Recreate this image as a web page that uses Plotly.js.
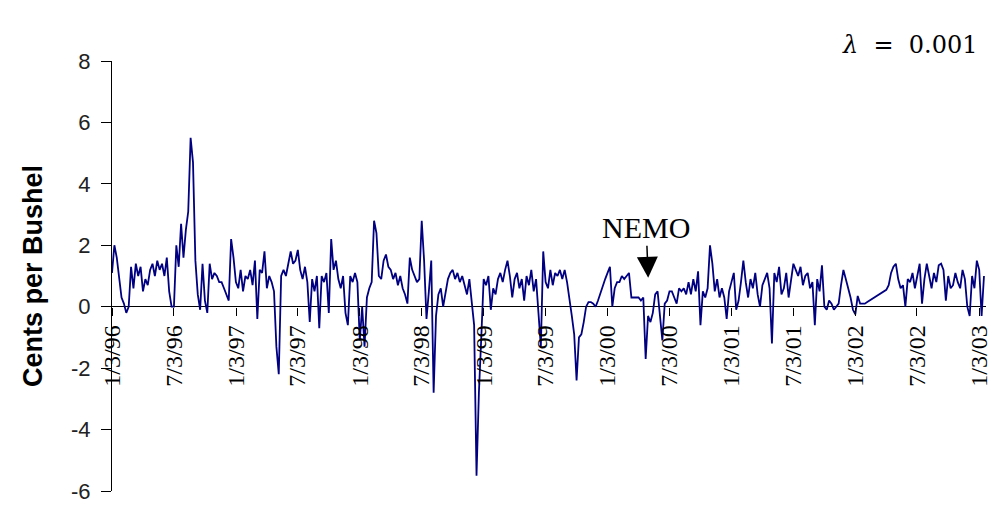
<!DOCTYPE html>
<html>
<head>
<meta charset="utf-8">
<script src="https://cdn.plot.ly/plotly-3.0.1.min.js"></script>
<style>html,body{margin:0;padding:0;background:#fff;}#chart{width:991px;height:506px;}</style>
</head>
<body>
<div id="chart"></div>
<script>
// Weekly readings (cents per bushel), one array per half-year starting at each tick date
const hy1 = [1.1, 2.0, 1.6, 0.9, 0.3, 0.1, -0.2, 0.0, 1.3, 0.6, 1.4, 1.0, 1.3, 0.5, 0.9, 0.7, 1.2, 1.4, 1.0, 1.5, 1.2, 1.4, 1.0, 1.6, 0.5, 0.0];
const hy2 = [0.0, 2.0, 1.3, 2.7, 1.6, 2.5, 3.1, 5.5, 4.7, 1.5, 0.4, -0.1, 1.4, 0.2, -0.2, 1.4, 0.9, 1.1, 1.0, 0.8, 0.8, 0.6, 0.4, 0.2, 2.2, 1.6];
const hy3 = [0.8, 0.6, 1.2, 0.5, 1.0, 0.9, 1.2, 0.7, 1.5, -0.4, 1.2, 1.1, 1.8, 0.6, 1.0, 0.8, 0.5, -1.3, -2.2, 1.0, 1.2, 1.0, 1.4, 1.8, 1.4, 1.5];
const hy4 = [1.85, 1.2, 0.9, 1.3, 0.8, -0.5, 0.9, 0.5, 1.0, -0.7, 1.0, 0.8, 1.1, -0.2, 2.2, 1.2, 1.5, 0.9, 0.6, 1.0, -0.2, -0.6, 1.0, 0.8, 1.1, 0.8];
const hy5 = [-1.1, 0.0, -1.3, 0.3, 0.6, 0.8, 2.8, 2.4, 1.0, 0.9, 1.5, 1.7, 1.3, 1.2, 0.9, 1.1, 0.7, 1.0, 0.6, 0.4, 0.1, 1.6, 1.2, 1.0, 0.8, 0.9];
const hy6 = [2.8, 1.5, -0.4, 0.5, 1.5, -2.8, -0.3, 0.4, 0.6, 0.0, 0.4, 0.9, 1.1, 1.2, 0.9, 1.1, 0.8, 1.0, 0.7, 0.4, 0.9, 0.1, -0.6, -5.5, -2.8, -1.0];
const hy7 = [0.9, 0.7, 1.0, -0.1, 0.6, 0.4, 0.9, 1.1, 0.8, 1.2, 1.5, 1.0, 0.3, 0.9, 1.1, 0.6, 0.9, 0.2, 1.0, 0.7, 1.2, 0.5, 0.9, -0.2, -1.3, 1.8];
const hy8 = [0.8, 0.6, 1.2, 0.7, 1.1, 1.0, 1.2, 0.9, 1.2, 0.8, 0.3, -0.3, -0.9, -2.4, -1.0, -0.9, -0.5, 0.0, 0.15, 0.15, 0.1, 0.0, 0.2, 0.45, 0.66, 0.9];
const hy9 = [1.1, 1.3, 0.0, 0.6, 0.8, 0.8, 1.0, 0.9, 1.0, 1.1, 0.3, 0.3, 0.3, 0.3, 0.2, 0.3, -1.7, -0.3, -0.5, -0.2, 0.4, 0.5, -0.3, -1.1, 0.1, 0.2];
const hy10 = [0.5, 0.5, 0.3, 0.1, 0.6, 0.5, 0.6, 0.4, 0.8, 0.4, 0.9, 0.5, 1.15, -0.6, 0.5, 0.3, 0.6, 2.0, 1.4, 0.5, 0.9, 0.3, 0.6, 0.3, -0.4, 0.5];
const hy11 = [0.8, 1.1, -0.1, 0.2, 0.8, 1.5, 0.8, 0.3, 0.9, 0.6, 1.1, 0.4, 0.0, 0.7, 0.9, 1.1, 0.6, -1.2, 1.1, 0.8, 1.3, 0.4, 0.6, 1.1, 0.3, 0.9];
const hy12 = [1.4, 1.2, 1.0, 1.3, 0.7, 1.0, 1.1, 0.6, 0.8, -0.6, 0.9, 0.5, 1.35, 0.0, -0.1, 0.2, 0.1, -0.1, 0.0, 0.1, 0.7, 1.2, 0.9, 0.6, 0.3, -0.1];
const hy13 = [-0.25, 0.35, 0.1, 0.1, 0.1, 0.15, 0.2, 0.25, 0.3, 0.35, 0.4, 0.45, 0.5, 0.55, 0.7, 1.1, 1.3, 1.4, 0.9, 0.6, 0.7, 0.0, 0.9, 0.8, 1.1, 0.6];
const hy14 = [1.0, 1.4, 0.1, 0.9, 1.4, 1.0, 0.6, 1.1, 0.8, 1.35, 1.4, 1.2, 0.2, 1.0, 0.6, 0.7, 1.1, 0.8, 0.6, 1.2, 0.9, 0.0, -0.3, 1.0, 0.6, 1.5];
const tail = [1.2, -0.3, 1.0];

const tickDates = ['1996-01-03','1996-07-03','1997-01-03','1997-07-03','1998-01-03','1998-07-03','1999-01-03','1999-07-03','2000-01-03','2000-07-03','2001-01-03','2001-07-03','2002-01-03','2002-07-03','2003-01-03'];
const tickLabels = ['1/3/96','7/3/96','1/3/97','7/3/97','1/3/98','7/3/98','1/3/99','7/3/99','1/3/00','7/3/00','1/3/01','7/3/01','1/3/02','7/3/02','1/3/03'];
const yTicks = [-6, -4, -2, 0, 2, 4, 6, 8];
const yTickLabels = ['-6', '-4', '-2', '0', '2', '4', '6', '8'];

const values = [].concat(hy1, hy2, hy3, hy4, hy5, hy6, hy7, hy8, hy9, hy10, hy11, hy12, hy13, hy14, tail);
// time grid: one sample about every week (26 per half-year)
const startMs = Date.UTC(1996, 0, 3);
const stepDays = 2557 / 364;
const dates = values.map((_, i) => new Date(startMs + i * stepDays * 86400000).toISOString().slice(0, 19).replace('T', ' '));

const trace = {
  x: dates, y: values, type: 'scatter', mode: 'lines',
  line: {color: '#000080', width: 1.8}, hoverinfo: 'skip'
};

const layout = {
  width: 991, height: 506,
  margin: {l: 112, r: 5, t: 61, b: 15},
  paper_bgcolor: '#fff', plot_bgcolor: '#fff',
  showlegend: false,
  xaxis: {
    type: 'date', range: ['1996-01-03', '2003-01-23'],
    anchor: 'free', position: 6 / 14,
    showline: false, showgrid: false, zeroline: false,
    ticks: 'outside', ticklen: 8, tickwidth: 1, tickcolor: '#000',
    tickmode: 'array', tickvals: tickDates, ticktext: tickLabels,
    tickangle: -90, ticklabeloverflow: 'allow',
    tickfont: {family: 'Liberation Serif, Times New Roman, serif', size: 24, color: '#000'},
    automargin: false
  },
  yaxis: {
    range: [-6, 8],
    tickmode: 'array', tickvals: yTicks, ticktext: yTickLabels,
    ticks: 'outside', ticklen: 10, tickwidth: 1, tickcolor: '#000',
    showline: true, linecolor: '#000', linewidth: 1,
    showgrid: false, zeroline: true, zerolinecolor: '#000', zerolinewidth: 1,
    tickfont: {family: 'Liberation Sans, Arial, sans-serif', size: 22, color: '#222'},
    ticklabelstandoff: 6,
    title: {text: '<b>Cents per Bushel</b>', font: {family: 'Liberation Sans, Arial, sans-serif', size: 27, color: '#000'}, standoff: 20},
    automargin: false
  },
  annotations: [
    {
      x: '2000-05-02', y: 0.94, xref: 'x', yref: 'y',
      text: 'NEMO', showarrow: true, ax: -2, ay: -50,
      arrowhead: 2, arrowsize: 2.8, arrowwidth: 1.5, arrowcolor: '#000',
      font: {family: 'Liberation Serif, Times New Roman, serif', size: 30, color: '#000'}
    },
    {
      x: 0.9931, y: 1.0372, xref: 'paper', yref: 'paper',
      xanchor: 'right', yanchor: 'middle', showarrow: false,
      text: '<i>λ</i>  =  0.001',
      font: {family: 'DejaVu Serif, serif', size: 24, color: '#000'}
    }
  ]
};

Plotly.newPlot('chart', [trace], layout, {displayModeBar: false, staticPlot: true});
</script>
</body>
</html>
